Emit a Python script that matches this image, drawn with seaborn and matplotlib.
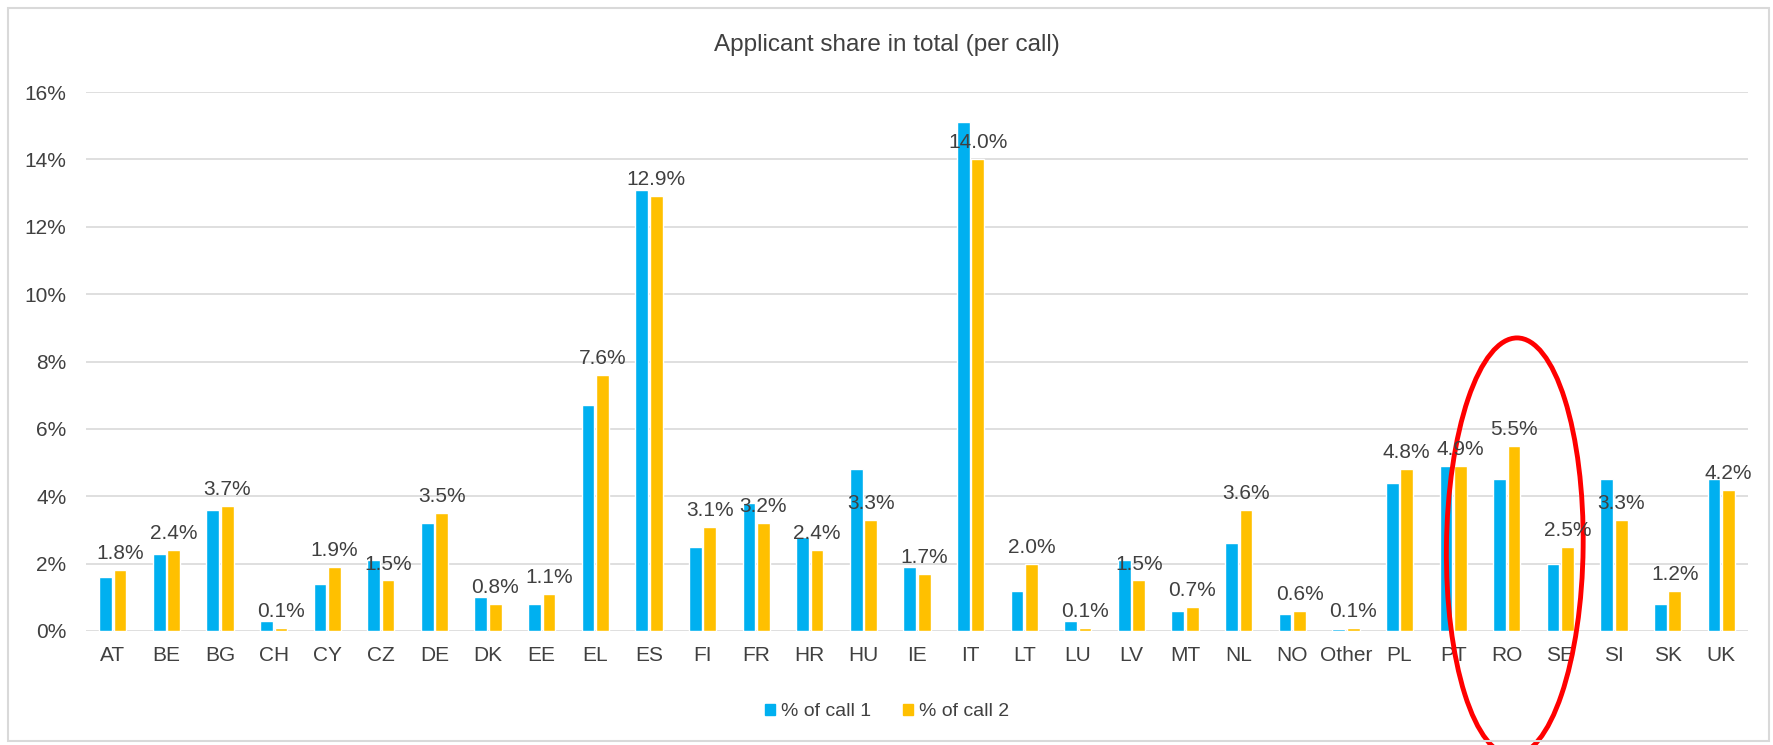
import matplotlib
matplotlib.use("Agg")
import matplotlib.pyplot as plt
import seaborn as sns
import pandas as pd
from matplotlib.patches import Ellipse, Rectangle
from matplotlib.ticker import FuncFormatter

countries = ["AT", "BE", "BG", "CH", "CY", "CZ", "DE", "DK", "EE", "EL", "ES", "FI", "FR",
             "HR", "HU", "IE", "IT", "LT", "LU", "LV", "MT", "NL", "NO", "Other", "PL", "PT",
             "RO", "SE", "SI", "SK", "UK"]
call1 = [1.6, 2.3, 3.6, 0.3, 1.4, 2.1, 3.2, 1.0, 0.8, 6.7, 13.1, 2.5, 3.8,
         2.8, 4.8, 1.9, 15.1, 1.2, 0.3, 2.1, 0.6, 2.6, 0.5, 0.05, 4.4, 4.9,
         4.5, 2.0, 4.5, 0.8, 4.5]
call2 = [1.8, 2.4, 3.7, 0.1, 1.9, 1.5, 3.5, 0.8, 1.1, 7.6, 12.9, 3.1, 3.2,
         2.4, 3.3, 1.7, 14.0, 2.0, 0.1, 1.5, 0.7, 3.6, 0.6, 0.1, 4.8, 4.9,
         5.5, 2.5, 3.3, 1.2, 4.2]
series = ["% of call 1", "% of call 2"]
yticks = [0, 2, 4, 6, 8, 10, 12, 14, 16]

df = pd.DataFrame({
    "country": countries * 2,
    "share": call1 + call2,
    "call": [series[0]] * len(countries) + [series[1]] * len(countries),
})

sns.set_theme(style="white")
plt.rcParams["font.family"] = ["Liberation Sans", "DejaVu Sans"]
text_col = "#404040"

W, H = 1774, 745
fig = plt.figure(figsize=(W / 100, H / 100), dpi=100)
ax = fig.add_axes([86 / W, 1 - 631 / H, (1748 - 86) / W, (631 - 92) / H])

sns.barplot(data=df, x="country", y="share", hue="call",
            palette=["#00B0F0", "#FFC000"], width=0.54, gap=0.12,
            ax=ax, legend=False, saturation=1)

ax.set_ylim(0, 16)
ax.set_xlim(-0.5, len(countries) - 0.5)
ax.set_yticks(yticks)
ax.yaxis.set_major_formatter(FuncFormatter(lambda v, p: f"{v:.0f}%"))
ax.grid(axis="y", color="#D9D9D9", linewidth=1.2)
ax.set_axisbelow(True)
for s in ax.spines.values():
    s.set_visible(False)
ax.set_xlabel("")
ax.set_ylabel("")
ax.tick_params(axis="both", length=0, labelsize=15, labelcolor=text_col)
ax.tick_params(axis="x", pad=11)
ax.tick_params(axis="y", pad=14)

ax.bar_label(ax.containers[1], labels=[f"{v:.1f}%" for v in call2],
             padding=5, fontsize=15, color=text_col)

fig.text(0.5, 1 - 45 / H, "Applicant share in total (per call)", ha="center",
         va="center", fontsize=17.5, color=text_col)

handles = [Rectangle((0, 0), 1, 1, color=c) for c in ["#00B0F0", "#FFC000"]]
fig.legend(handles, series, loc="center", bbox_to_anchor=(0.5, 1 - 712 / H),
           ncol=2, frameon=False, fontsize=14, handlelength=0.55, handleheight=0.55,
           handletextpad=0.3, columnspacing=1.6, labelcolor=text_col)

# red highlight ellipse around RO / SE
ell = Ellipse((26.15, 2.5), width=2.55, height=12.4, fill=False,
              edgecolor="#FF0000", linewidth=3.5, clip_on=False, angle=-0.4)
ax.add_patch(ell)

# chart frame
fig.patches.append(Rectangle((8 / W, 4 / H), (1769 - 8) / W, (741 - 8) / H,
                             transform=fig.transFigure, fill=False,
                             edgecolor="#D9D9D9", linewidth=1.5))

fig.savefig("out.png", dpi=100)
